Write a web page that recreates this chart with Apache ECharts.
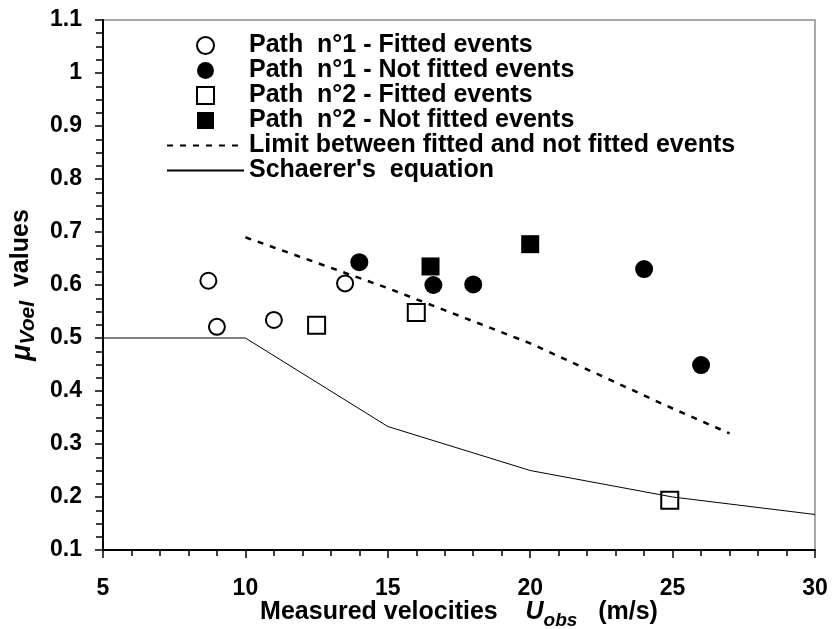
<!DOCTYPE html>
<html>
<head>
<meta charset="utf-8">
<script src="https://cdn.jsdelivr.net/npm/echarts@6/dist/echarts.min.js"></script>
<style>
  html, body { margin: 0; padding: 0; background: #fff; }
  #divChart { width: 834px; height: 629px; }
</style>
</head>
<body>
<div id="divChart"></div>
<script>
// data
var p1FitX = [8.7, 9, 11, 13.5];
var p1FitY = [0.608, 0.521, 0.534, 0.603];
var p1NotX = [14, 16.6, 18, 24, 26];
var p1NotY = [0.643, 0.6, 0.601, 0.63, 0.449];
var p2FitX = [12.5, 16, 24.9];
var p2FitY = [0.524, 0.548, 0.194];
var p2NotX = [16.5, 20];
var p2NotY = [0.635, 0.677];
var limitX = [10, 15, 20, 25, 27];
var limitY = [0.69, 0.594, 0.49, 0.367, 0.32];
var schaererX = [5, 10, 15, 20, 25, 30];
var schaererY = [0.5, 0.5, 0.333, 0.25, 0.2, 0.167];

var names = [
    'Path  n°1 - Fitted events',
    'Path  n°1 - Not fitted events',
    'Path  n°2 - Fitted events',
    'Path  n°2 - Not fitted events',
    'Limit between fitted and not fitted events',
    "Schaerer's  equation"
];

var FONT = '"Liberation Sans", Arial, sans-serif';
var SQUARE = 'path://M0,0L10,0L10,10L0,10Z';
var NO_SYMBOL = { color: 'rgba(0,0,0,0)', borderWidth: 0, opacity: 0 };

function pairs(xs, ys) {
    var out = [];
    for (var i = 0; i < xs.length; i++) out.push([xs[i], ys[i]]);
    return out;
}

var myChart = echarts.init(document.getElementById('divChart'));

var option = {
    animation: false,
    backgroundColor: '#fff',
    grid: {
        left: 103, right: 19, top: 20, bottom: 79,
        containLabel: false,
        outerBoundsMode: 'none',
        show: true,
        borderColor: '#8c8c8c',
        borderWidth: 1.5
    },
    legend: {
        orient: 'vertical',
        left: 166,
        top: 33,
        padding: 0,
        itemWidth: 77,
        itemHeight: 17,
        itemGap: 0,
        selectedMode: false,
        textStyle: { fontFamily: FONT, fontSize: 25, fontWeight: 'bold', color: '#000', lineHeight: 24.6 },
        data: [
            { name: names[0], icon: 'circle' },
            { name: names[1], icon: 'circle' },
            { name: names[2], icon: SQUARE },
            { name: names[3], icon: SQUARE },
            { name: names[4], itemStyle: NO_SYMBOL },
            { name: names[5], itemStyle: NO_SYMBOL }
        ]
    },
    xAxis: {
        type: 'value',
        min: 5, max: 30, interval: 5,
        name: '{t|Measured velocities    }{u|U}{s|obs}{t|   (m/s)}',
        nameLocation: 'middle',
        nameGap: 50,
        nameMoveOverlap: false,
        nameTextStyle: {
            rich: {
                t: { fontFamily: FONT, fontSize: 25, fontWeight: 'bold', color: '#000', lineHeight: 30, verticalAlign: 'top' },
                u: { fontFamily: FONT, fontSize: 25, fontWeight: 'bold', fontStyle: 'italic', color: '#000', lineHeight: 30, verticalAlign: 'top' },
                s: { fontFamily: FONT, fontSize: 19, fontWeight: 'bold', fontStyle: 'italic', color: '#000', lineHeight: 12, verticalAlign: 'bottom' }
            }
        },
        axisLine: { lineStyle: { color: '#000', width: 2 } },
        axisTick: { length: 8, lineStyle: { color: '#000', width: 1.5 } },
        minorTick: { show: true, splitNumber: 5, length: 6, lineStyle: { color: '#000', width: 1.5 } },
        splitLine: { show: false },
        axisLabel: { margin: 27, fontFamily: FONT, fontSize: 23, fontWeight: 'bold', color: '#000' }
    },
    yAxis: {
        type: 'value',
        min: 0.1, max: 1.1, interval: 0.1,
        name: '{m|μ}{s|Voel}{t|  values}',
        nameLocation: 'middle',
        nameRotate: 90,
        nameGap: 64,
        nameMoveOverlap: false,
        nameTextStyle: {
            rich: {
                m: { fontFamily: FONT, fontSize: 27, fontWeight: 'bold', fontStyle: 'italic', color: '#000', lineHeight: 30, verticalAlign: 'top' },
                s: { fontFamily: FONT, fontSize: 21, fontWeight: 'bold', fontStyle: 'italic', color: '#000', lineHeight: 17, verticalAlign: 'bottom' },
                t: { fontFamily: FONT, fontSize: 25, fontWeight: 'bold', color: '#000', lineHeight: 30, verticalAlign: 'top' }
            }
        },
        axisLine: { lineStyle: { color: '#000', width: 2 } },
        axisTick: { length: 8, lineStyle: { color: '#000', width: 1.5 } },
        minorTick: { show: true, splitNumber: 4, length: 7, lineStyle: { color: '#000', width: 1.5 } },
        splitLine: { show: false },
        axisLabel: { margin: 21, fontFamily: FONT, fontSize: 23, fontWeight: 'bold', color: '#000' }
    },
    series: [
        {
            name: names[4],
            type: 'line',
            symbol: 'none',
            data: pairs(limitX, limitY),
            lineStyle: { color: '#000', width: 2.5, type: [6, 7] },
            itemStyle: { color: '#000' }
        },
        {
            name: names[5],
            type: 'line',
            symbol: 'none',
            data: pairs(schaererX, schaererY),
            lineStyle: { color: '#000', width: 1 },
            itemStyle: { color: '#000' }
        },
        {
            name: names[0],
            type: 'scatter',
            symbol: 'circle',
            symbolSize: 16,
            data: pairs(p1FitX, p1FitY),
            itemStyle: { color: '#fff', borderColor: '#000', borderWidth: 2, opacity: 1 }
        },
        {
            name: names[1],
            type: 'scatter',
            symbol: 'circle',
            symbolSize: 18,
            data: pairs(p1NotX, p1NotY),
            itemStyle: { color: '#000', opacity: 1 }
        },
        {
            name: names[2],
            type: 'scatter',
            symbol: SQUARE,
            symbolSize: 17,
            data: pairs(p2FitX, p2FitY),
            itemStyle: { color: '#fff', borderColor: '#000', borderWidth: 2, opacity: 1 }
        },
        {
            name: names[3],
            type: 'scatter',
            symbol: SQUARE,
            symbolSize: 18,
            data: pairs(p2NotX, p2NotY),
            itemStyle: { color: '#000', opacity: 1 }
        }
    ]
};
myChart.setOption(option);
</script>
</body>
</html>
